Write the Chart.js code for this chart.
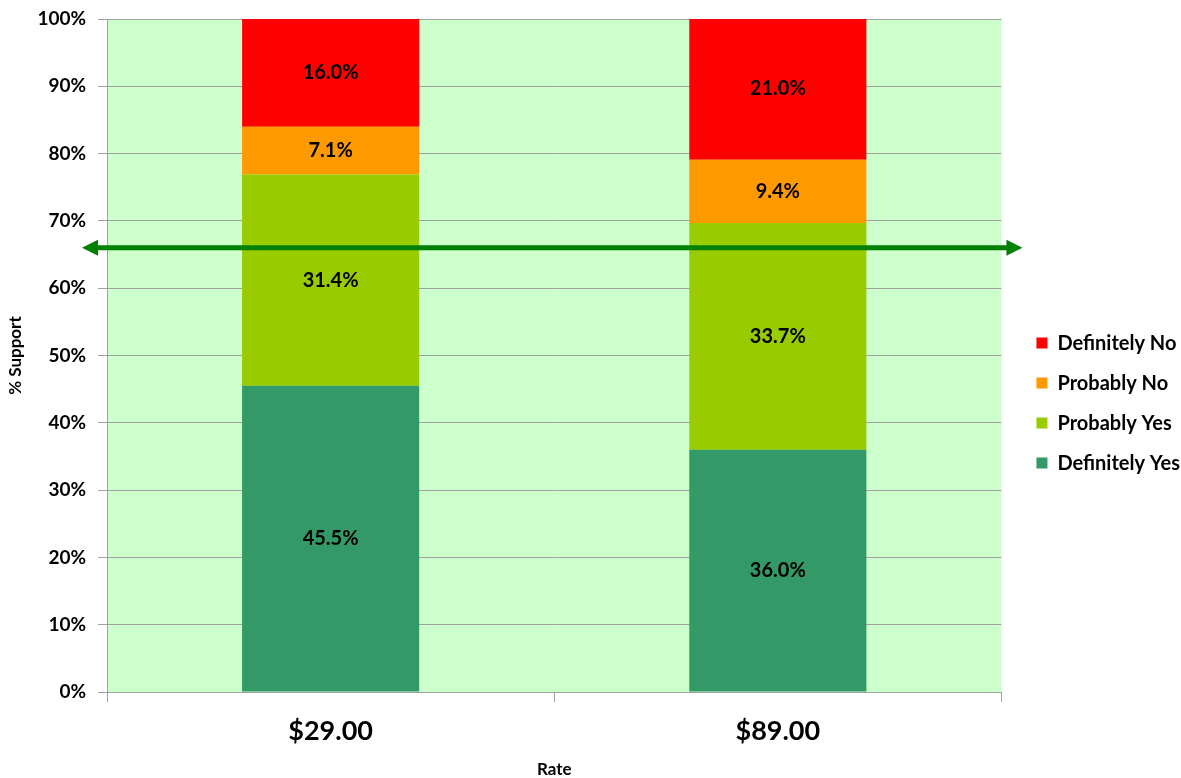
<!DOCTYPE html>
<html>
<head>
<meta charset="utf-8">
<script src="https://cdn.jsdelivr.net/npm/chart.js@4"></script>
<style>
  html, body { margin: 0; padding: 0; background: #fff; }
  #wrap { width: 1181px; height: 778px; }
</style>
</head>
<body>
<div id="wrap"><canvas id="supportChart"></canvas></div>
<script>
const rates = ['$29.00', '$89.00'];
const definitelyYes = [45.5, 36.0];
const probablyYes = [31.4, 33.7];
const probablyNo = [7.1, 9.4];
const definitelyNo = [16.0, 21.0];
const yTicks = [0, 10, 20, 30, 40, 50, 60, 70, 80, 90, 100];
const targetLine = 66;

const FONT = 'Lato, "Liberation Sans", sans-serif';

// light green plot background
const plotBg = {
    id: 'plotBg',
    beforeDraw(chart) {
        const { ctx, chartArea: a } = chart;
        ctx.save();
        ctx.fillStyle = '#ccffcc';
        ctx.fillRect(a.left, a.top, a.right - a.left, a.bottom - a.top);
        ctx.restore();
    }
};

// push the legend items a bit to the right of the plot
const legendShift = {
    id: 'legendShift',
    beforeLayout(chart) {
        const lg = chart.legend;
        if (lg && !lg._shifted) {
            const draw = lg.draw;
            lg.draw = function () {
                this.ctx.save();
                this.ctx.translate(15, 0);
                draw.call(this);
                this.ctx.restore();
            };
            lg._shifted = true;
        }
    }
};

// value labels in the middle of each segment
const segLabels = {
    id: 'segLabels',
    afterDatasetsDraw(chart) {
        const ctx = chart.ctx;
        ctx.save();
        ctx.font = 'bold 20px ' + FONT;
        ctx.fillStyle = '#000';
        ctx.textAlign = 'center';
        ctx.textBaseline = 'middle';
        chart.data.datasets.forEach((ds, i) => {
            chart.getDatasetMeta(i).data.forEach((bar, j) => {
                const mid = (bar.y + bar.base) / 2;
                ctx.fillText(ds.data[j].toFixed(1) + '%', bar.x, mid);
            });
        });
        ctx.restore();
    }
};

// double-headed green arrow at the target level
const arrow = {
    id: 'arrow',
    afterDraw(chart) {
        const { ctx, chartArea: a } = chart;
        const y = chart.scales.y.getPixelForValue(targetLine);
        const x1 = a.left - 25, x2 = a.right + 21;
        ctx.save();
        ctx.fillStyle = ctx.strokeStyle = '#008000';
        ctx.lineWidth = 5;
        ctx.beginPath();
        ctx.moveTo(x1 + 12, y);
        ctx.lineTo(x2 - 12, y);
        ctx.stroke();
        ctx.beginPath();
        ctx.moveTo(x1, y);
        ctx.lineTo(x1 + 16, y - 8);
        ctx.lineTo(x1 + 16, y + 8);
        ctx.closePath();
        ctx.fill();
        ctx.beginPath();
        ctx.moveTo(x2, y);
        ctx.lineTo(x2 - 16, y - 8);
        ctx.lineTo(x2 - 16, y + 8);
        ctx.closePath();
        ctx.fill();
        ctx.restore();
    }
};

const ctx = document.getElementById('supportChart').getContext('2d');

new Chart(ctx, {
    type: 'bar',
    data: {
        labels: rates,
        datasets: [
            { label: 'Definitely Yes', data: definitelyYes, backgroundColor: '#339966' },
            { label: 'Probably Yes', data: probablyYes, backgroundColor: '#99cc00' },
            { label: 'Probably No', data: probablyNo, backgroundColor: '#ff9900' },
            { label: 'Definitely No', data: definitelyNo, backgroundColor: '#ff0000' }
        ]
    },
    options: {
        responsive: true,
        maintainAspectRatio: false,
        animation: false,
        datasets: { bar: { barPercentage: 0.396, categoryPercentage: 1 } },
        layout: { padding: { top: 19, right: 6, left: 5, bottom: 0 } },
        plugins: {
            tooltip: { enabled: false },
            legend: {
                position: 'right',
                reverse: true,
                title: {
                    display: true,
                    text: ' ',
                    font: { size: 1 },
                    padding: 4
                },
                labels: {
                    font: { family: FONT, size: 20, weight: 'bold' },
                    color: '#000',
                    boxWidth: 11,
                    boxHeight: 11,
                    padding: 20
                }
            }
        },
        scales: {
            x: {
                stacked: true,
                grid: {
                    offset: true,
                    drawOnChartArea: false,
                    drawTicks: true,
                    tickLength: 10,
                    color: '#a0a0a0'
                },
                border: { color: '#a0a0a0' },
                ticks: {
                    font: { family: FONT, size: 27, weight: 'bold', lineHeight: 1.0 },
                    color: '#000',
                    padding: 16
                },
                title: {
                    display: true,
                    text: 'Rate',
                    font: { family: FONT, size: 17, weight: 'bold', lineHeight: 1.0 },
                    color: '#000',
                    padding: { top: 0, bottom: 0 }
                }
            },
            y: {
                stacked: true,
                min: 0,
                max: 100,
                afterBuildTicks(scale) {
                    scale.ticks = yTicks.map(v => ({ value: v }));
                },
                afterFit(scale) {
                    scale.paddingTop = 0;
                },
                grid: {
                    color: '#a0a0a0',
                    tickLength: 9
                },
                border: { color: '#a0a0a0' },
                ticks: {
                    font: { family: FONT, size: 19, weight: 'bold' },
                    color: '#000',
                    padding: 12,
                    callback: v => v + '%'
                },
                title: {
                    display: true,
                    text: '% Support',
                    font: { family: FONT, size: 17, weight: 'bold' },
                    color: '#000',
                    padding: { top: 0, bottom: 0 }
                }
            }
        }
    },
    plugins: [plotBg, legendShift, segLabels, arrow]
});
</script>
</body>
</html>
